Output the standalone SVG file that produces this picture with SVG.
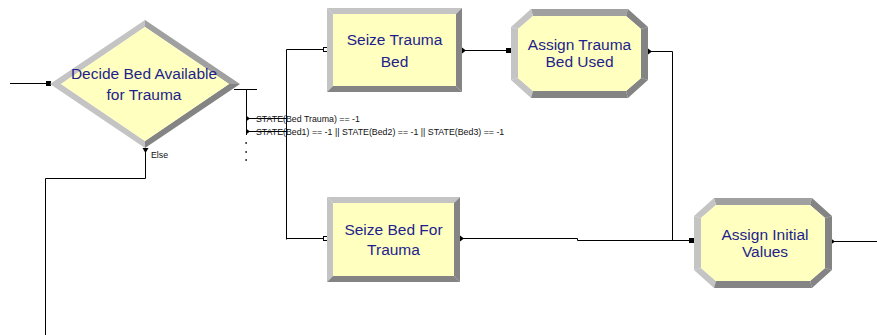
<svg xmlns="http://www.w3.org/2000/svg" width="877" height="335" viewBox="0 0 877 335">
<style>
.lbl{font-family:"Liberation Sans",Arial,sans-serif;font-size:15.5px;fill:#1e1e8c;text-anchor:middle}
.small{font-family:"Liberation Sans",Arial,sans-serif;font-size:8.8px;fill:#111}
.fill{fill:#ffffc0}
.lt{fill:#c4c4c4}
.md{fill:#a0a0a0}
.dk{fill:#848484}
.ln{fill:none;stroke:#000;stroke-width:1}
.sq{fill:#000}
.hsq{fill:#fff;stroke:#000;stroke-width:1}
</style>
<rect width="877" height="335" fill="#fff"/>
<g id="connectors">
  <path class="ln" d="M10 83.5H48"/>
  <path class="ln" d="M234 89.5H257M246.5 89.5V135"/>
  <path class="ln" d="M246 118.5H286.5M246 131.5H286.5M286.5 49.5V239.5M286.5 49.5H323M286.5 238.5H323"/>
  <path class="ln" d="M464 50.5H506"/>
  <path class="ln" d="M650 51.5H672.5V240"/>
  <path class="ln" d="M462 238.5H577.5V240.5H690"/>
  <path class="ln" d="M833 241.5H877"/>
  <path class="ln" d="M145.5 152V178.5H45.5V335"/>
  <rect class="sq" x="46" y="81" width="5" height="5"/>
  <path class="sq" d="M246 115.5L250 118.5L246 121.5Z"/>
  <path class="sq" d="M246 128.5L250 131.5L246 134.5Z"/>
  <rect class="sq" x="245.5" y="142" width="1.2" height="2"/>
  <rect class="sq" x="245.5" y="151" width="1.2" height="2"/>
  <rect class="sq" x="245.5" y="159" width="1.2" height="2"/>
  <path class="sq" d="M142.5 148L148.5 148L145.5 153Z"/>
  <rect class="hsq" x="323.5" y="47.5" width="4" height="4"/>
  <rect class="hsq" x="323.5" y="236.5" width="4" height="4"/>
  <path class="sq" d="M462 47.5L466 50.5L462 53.5Z"/>
  <path class="sq" d="M460 235.5L464 238.5L460 241.5Z"/>
  <rect class="sq" x="506" y="48" width="5" height="5"/>
  <path class="sq" d="M648 48.5L652 51.5L648 54.5Z"/>
  <rect class="sq" x="689" y="238" width="5" height="5"/>
  <path class="sq" d="M831 238.5L835 241.5L831 244.5Z"/>
  <text class="small" x="256" y="121.5">STATE(Bed Trauma) == -1</text>
  <text class="small" x="256" y="134.5">STATE(Bed1) == -1 || STATE(Bed2) == -1 || STATE(Bed3) == -1</text>
  <text class="small" x="151" y="158">Else</text>
</g>
<g id="decide">
  <polygon class="lt" points="50,84 145,20 145,27 61,84"/>
  <polygon class="md" points="145,20 240,84 229,84 145,27"/>
  <polygon class="dk" points="240,84 145,148 145,141 229,84"/>
  <polygon class="lt" points="50,84 145,148 145,141 61,84"/>
  <polygon class="fill" points="61,84 145,27 229,84 145,141"/>
  <text class="lbl" x="144" y="79">Decide Bed Available</text>
  <text class="lbl" x="144" y="100">for Trauma</text>
</g>
<g id="seize-trauma-bed">
  <polygon class="lt" points="327,8 462,8 456,14 333,14"/>
  <polygon class="lt" points="327,8 333,14 333,86 327,92"/>
  <polygon class="dk" points="462,8 462,92 456,86 456,14"/>
  <polygon class="dk" points="327,92 462,92 456,86 333,86"/>
  <rect class="fill" x="333" y="14" width="123" height="72"/>
  <text class="lbl" x="394.5" y="45">Seize Trauma</text>
  <text class="lbl" x="394.5" y="67">Bed</text>
</g>
<g id="seize-bed-for-trauma">
  <polygon class="lt" points="327,197 460,197 454,203 333,203"/>
  <polygon class="lt" points="327,197 333,203 333,276 327,282"/>
  <polygon class="dk" points="460,197 460,282 454,276 454,203"/>
  <polygon class="dk" points="327,282 460,282 454,276 333,276"/>
  <rect class="fill" x="333" y="203" width="121" height="73"/>
  <text class="lbl" x="393.5" y="235">Seize Bed For</text>
  <text class="lbl" x="393.5" y="255">Trauma</text>
</g>
<g id="assign-trauma-bed-used">
  <polygon class="md" points="531,9 628,9 626,16 533,16"/>
  <polygon class="lt" points="511,27 531,9 533,16 518,29"/>
  <polygon class="lt" points="511,27 518,29 518,78 511,80"/>
  <polygon class="lt" points="511,80 518,78 533,91 531,98"/>
  <polygon class="dk" points="531,98 533,91 626,91 628,98"/>
  <polygon class="dk" points="628,98 626,91 641,78 648,80"/>
  <polygon class="dk" points="648,80 641,78 641,29 648,27"/>
  <polygon class="dk" points="648,27 641,29 626,16 628,9"/>
  <polygon class="fill" points="533,16 626,16 641,29 641,78 626,91 533,91 518,78 518,29"/>
  <text class="lbl" x="579.5" y="50">Assign Trauma</text>
  <text class="lbl" x="579.5" y="67">Bed Used</text>
</g>
<g id="assign-initial-values">
  <polygon class="md" points="714,198 812,198 810,205 716,205"/>
  <polygon class="lt" points="694,216 714,198 716,205 701,218"/>
  <polygon class="lt" points="694,216 701,218 701,268 694,270"/>
  <polygon class="lt" points="694,270 701,268 716,281 714,288"/>
  <polygon class="dk" points="714,288 716,281 810,281 812,288"/>
  <polygon class="dk" points="812,288 810,281 825,268 832,270"/>
  <polygon class="dk" points="832,270 825,268 825,218 832,216"/>
  <polygon class="dk" points="832,216 825,218 810,205 812,198"/>
  <polygon class="fill" points="716,205 810,205 825,218 825,268 810,281 716,281 701,268 701,218"/>
  <text class="lbl" x="765" y="240">Assign Initial</text>
  <text class="lbl" x="765" y="257">Values</text>
</g>
</svg>
